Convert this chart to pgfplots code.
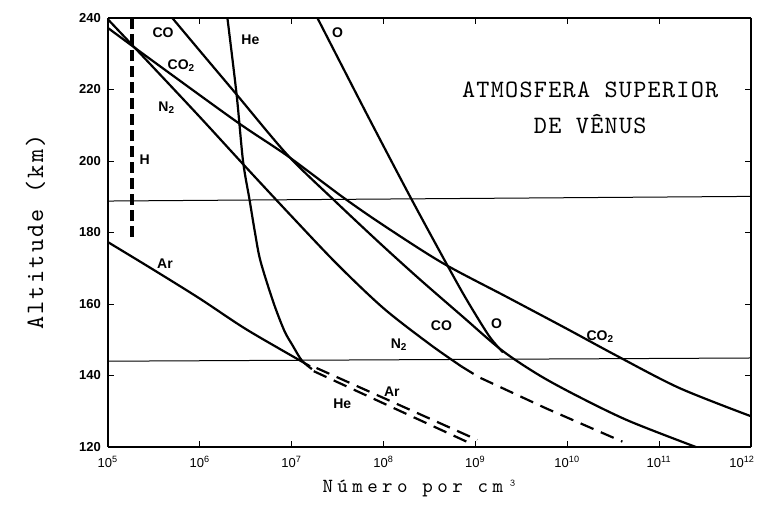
\documentclass[border=0pt]{standalone}
\usepackage{fontspec}
\setmainfont{Liberation Serif}
\setsansfont{Liberation Sans}
\newfontfamily\ttA[LetterSpace=9]{lmmono10-regular.otf}
\newfontfamily\ttB[LetterSpace=22]{lmmono10-regular.otf}
\newfontfamily\ttC[LetterSpace=5]{lmmono10-regular.otf}
\usepackage{pgfplots}
\pgfplotsset{compat=1.18}
\begin{document}
\begin{tikzpicture}
\begin{axis}[
  scale only axis, width=321.5pt, height=214.5pt,
  xmin=5, xmax=12, ymin=120, ymax=240,
  separate axis lines,
  x axis line style={line width=0.6pt},
  y axis line style={line width=1.2pt},
  xtick={5,6,7,8,9,10,11,12},
  xticklabels={10\textsuperscript{5},10\textsuperscript{6},10\textsuperscript{7},10\textsuperscript{8},10\textsuperscript{9},10\textsuperscript{10},10\textsuperscript{11},\makebox[0pt][r]{10\textsuperscript{12}\hspace*{-2pt}}},
  ytick={120,140,160,180,200,220,240},
  tick align=inside, major tick length=3pt,
  tick style={line width=0.5pt, black},
  xticklabel style={font=\sffamily\fontsize{6.5}{7}\selectfont, yshift=-1pt},
  yticklabel style={font=\sffamily\bfseries\fontsize{6.5}{7}\selectfont},
  /pgf/number format/assume math mode=true,
  clip=false,
  every axis plot/.append style={line width=1.1pt, black, no markers},
]
% reference lines
\addplot[line width=0.5pt] coordinates {(5,188.8) (12,190.1)};
\addplot[line width=0.5pt] coordinates {(5,144.0) (12,144.9)};
% CO2
\addplot[smooth, tension=0.5] coordinates {(5.0,237.2) (5.46,228.5) (6.40,211.0) (6.95,201.5) (7.55,190.0) (8.0,182.0) (8.64,171.5) (9.34,162) (10.0,153) (10.54,145.5) (11.22,136.5) (12.0,128.6)};
% CO
\addplot[smooth, tension=0.5] coordinates {(5.70,240) (6.0,230.8) (6.40,218.6) (6.95,201.8) (7.45,189.3) (7.96,177) (8.39,167) (8.86,156.5) (9.29,147) (9.70,140) (10.13,134) (10.67,127.3) (11.40,120)};
% O
\addplot[smooth, tension=0.5] coordinates {(7.28,240) (7.82,213) (8.30,189.5) (8.68,171.5) (8.90,161.4) (9.15,151) (9.30,146.5)};
% N2
\addplot[smooth, tension=0.5] coordinates {(5.0,239.6) (5.5,226) (6.0,212.3) (6.5,198.3) (7.0,184.5) (7.5,171) (8.0,158.8) (8.5,148.8) (8.85,142.5)};
\addplot[dash pattern=on 7pt off 4pt] coordinates {(8.85,142.5) (9.04,139.5) (9.77,130.8) (10.60,121.5)};
% He
\addplot[smooth, tension=0.5] coordinates {(6.30,240) (6.40,218.6) (6.47,200) (6.54,189.3) (6.60,180) (6.66,172) (6.80,160.5) (6.92,152.5) (7.01,148.4) (7.11,144.2) (7.22,141.8)};
\addplot[dash pattern=on 7pt off 4pt] coordinates {(7.24,141.2) (8.98,120.6)};
% Ar
\addplot[smooth, tension=0.5] coordinates {(5.0,177.3) (5.5,169.5) (6.0,161.5) (6.5,153) (7.09,144.2) (7.2,142.6)};
\addplot[dash pattern=on 7pt off 4pt] coordinates {(7.27,142.1) (9.02,122.0)};
% H
\addplot[line width=1.8pt, dash pattern=on 5.5pt off 2.5pt] coordinates {(5.26,240) (5.26,177.5)};
% species labels
\begin{scope}[every node/.style={font=\sffamily\bfseries\fontsize{7}{8}\selectfont, inner sep=0pt}]
\node at (axis cs:5.60,235.8) {CO};
\node at (axis cs:6.55,233.9) {He};
\node at (axis cs:7.50,235.8) {O};
\node at (axis cs:5.80,226.7) {CO\textsubscript{2}};
\node at (axis cs:5.64,214.8) {N\textsubscript{2}};
\node at (axis cs:5.40,200.4) {H};
\node at (axis cs:5.62,171.2) {Ar};
\node at (axis cs:8.63,154.0) {CO};
\node at (axis cs:9.23,154.5) {O};
\node at (axis cs:8.17,148.6) {N\textsubscript{2}};
\node at (axis cs:10.36,150.8) {CO\textsubscript{2}};
\node at (axis cs:8.09,135.4) {Ar};
\node at (axis cs:7.55,132.2) {He};
\end{scope}
% title
\node[font=\ttC\fontsize{12.5}{14}\selectfont, align=center] at (axis cs:10.25,214.8) {ATMOSFERA SUPERIOR\\[4pt] DE VÊNUS};
% axis labels
\node[font=\ttA\fontsize{12.5}{14}\selectfont, rotate=90] at (axis cs:4.21,180.1) {Altitude (km)};
\node[font=\ttB\fontsize{10}{12}\selectfont] at (axis cs:8.40,108.5) {Número por cm³};
\end{axis}
\pgfresetboundingbox
\path[use as bounding box] ([xshift=-54pt,yshift=-31pt]current axis.south west) rectangle ([xshift=3pt,yshift=9pt]current axis.north east);
\end{tikzpicture}
\end{document}
